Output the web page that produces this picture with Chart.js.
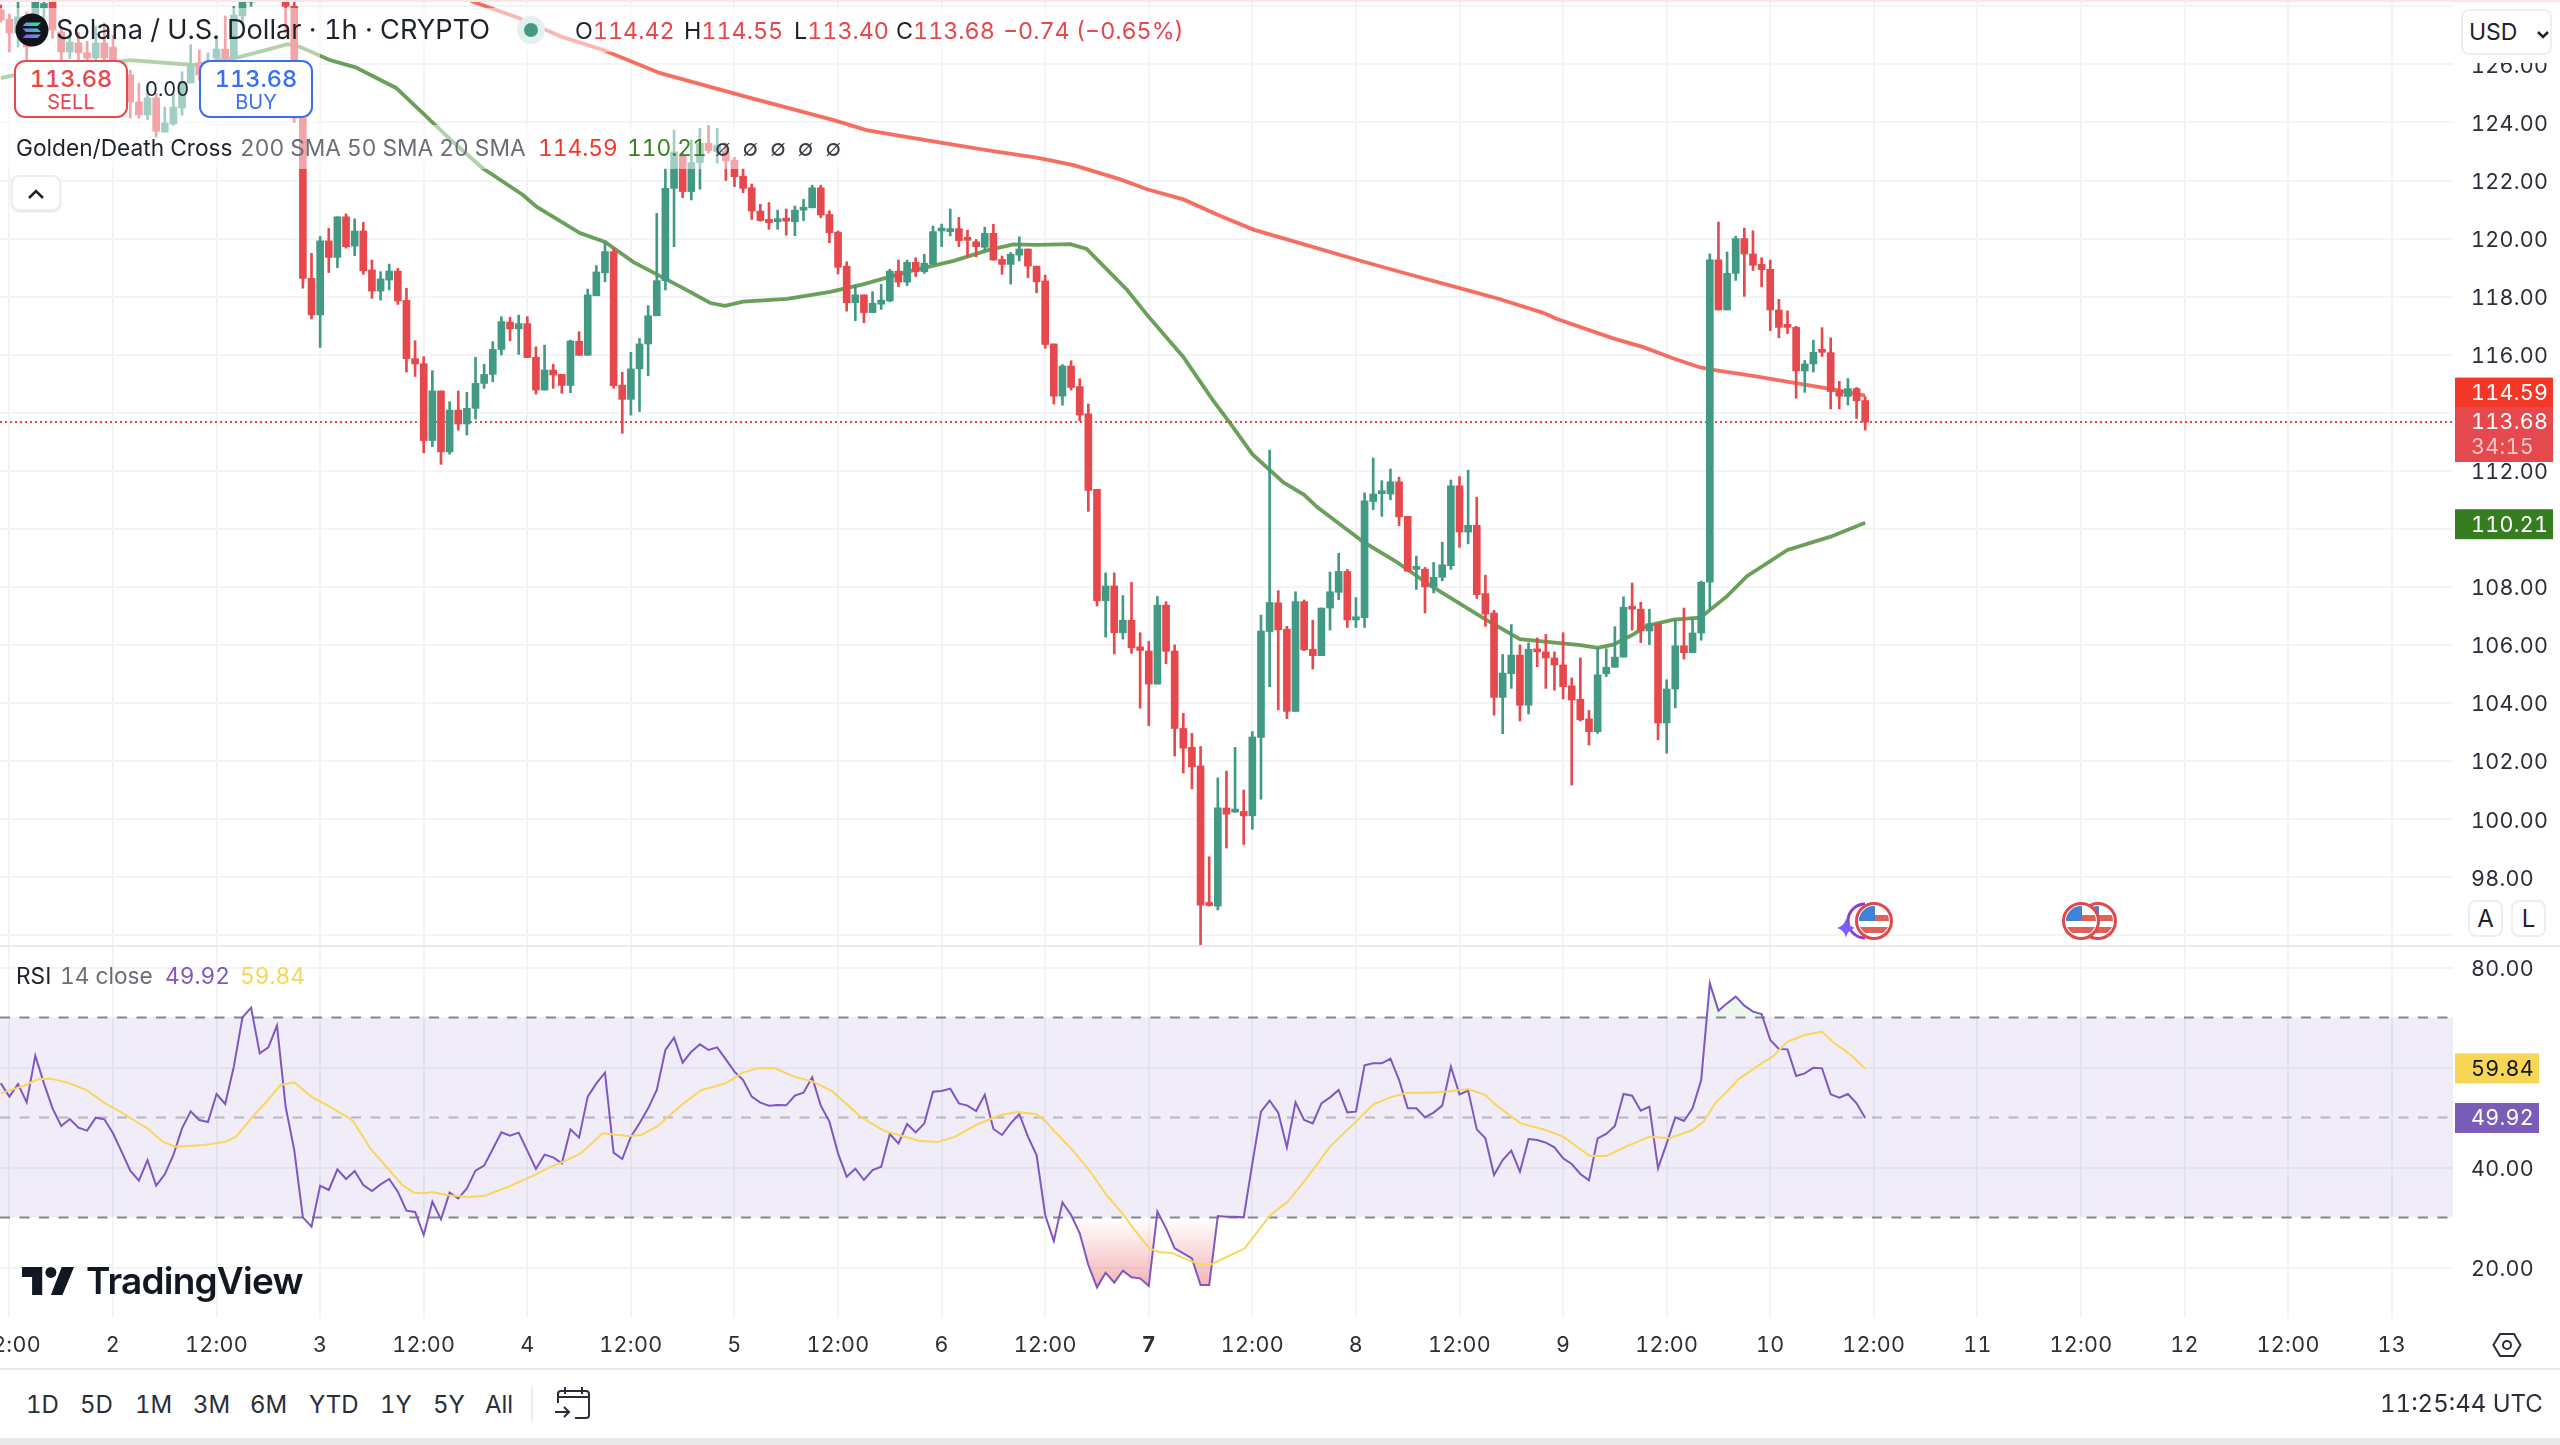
<!DOCTYPE html>
<html>
<head>
<meta charset="utf-8">
<title>SOL/USD 1h</title>
<script src="https://cdn.jsdelivr.net/npm/chart.js@4/dist/chart.umd.min.js"></script>
<style>
    html, body { margin: 0; padding: 0; background: #fff; }
    body { position: relative; width: 2560px; height: 1445px; overflow: hidden; font-family: Inter, sans-serif; color: #1e222d; font-variant-numeric: tabular-nums; }
    canvas { position: absolute; left: 0; }
    .abs { position: absolute; white-space: nowrap; line-height: 1; }
    .veil { position: absolute; background: rgba(255, 255, 255, 0.5); }
    .gray { color: #6a6d78; }
    .red { color: #e5484d; }
    .green { color: #388022; }
    .trade { position: absolute; top: 60px; width: 110px; height: 54px; border: 2px solid; border-radius: 11px; background: #fff; text-align: center; }
    .trade b { display: block; font-weight: 500; font-size: 23.500px; line-height: 24px; margin-top: 5px; }
    .trade span { display: block; font-size: 20px; line-height: 23px; }
    .btn { position: absolute; background: #fff; border: 2px solid #eeeeef; border-radius: 8px; box-sizing: border-box; text-align: center; }
    .range { position: absolute; top: 1393px; font-size: 24px; line-height: 1; color: #2a2e39; }
    .ohlc { position: absolute; top: 19px; white-space: nowrap; line-height: 1; font-size: 23.300px; }
    .leg { position: absolute; top: 137px; white-space: nowrap; line-height: 1; font-size: 22.700px; }
</style>
</head>
<body>
<canvas id="priceChart" width="2560" height="945" style="top:0"></canvas>
<canvas id="rsiChart" width="2560" height="423" style="top:945px"></canvas>

<div class="abs" style="left:0;top:0;width:2560px;height:2px;background:#fbe6e6"></div>
<div class="abs" style="left:0;top:945px;width:2560px;height:2px;background:#e9e9ea"></div>
<div class="abs" style="left:0;top:1368px;width:2560px;height:2px;background:#e9e9ea"></div>
<div class="abs" style="left:0;top:1438px;width:2560px;height:7px;background:#e9e9e9"></div>

<div class="veil" style="left:0;top:8px;width:1185px;height:44px"></div>
<div class="veil" style="left:0;top:52px;width:320px;height:73px"></div>
<div class="veil" style="left:0;top:125px;width:845px;height:44px"></div>

<svg class="abs" style="left:15px;top:13px" width="34" height="34" viewBox="0 0 34 34">
    <defs><linearGradient id="sol" x1="0" y1="1" x2="1" y2="0"><stop offset="0" stop-color="#9945ff"/><stop offset="0.5" stop-color="#5a9ee0"/><stop offset="1" stop-color="#19fb9b"/></linearGradient></defs>
    <circle cx="17" cy="17" r="16.5" fill="#14151c"/>
    <path d="M11 9.5h15l-3.5 3.5h-15zM7.500 15.500h15l3.500 3.500h-15zM11 21.500h15l-3.500 3.500h-15z" fill="url(#sol)"/>
</svg>
<div class="abs" style="left:56px;top:16px;font-size:27.200px">Solana / U.S. Dollar · 1h · CRYPTO</div>
<svg class="abs" style="left:516px;top:15px" width="30" height="30"><circle cx="15" cy="15" r="14" fill="#e3f1ee"/><circle cx="15" cy="15" r="7" fill="#429a84"/></svg>
<div class="ohlc" style="left:575px">O<span class="red">114.42</span></div>
<div class="ohlc" style="left:684px">H<span class="red">114.55</span></div>
<div class="ohlc" style="left:794px">L<span class="red">113.40</span></div>
<div class="ohlc" style="left:896px">C<span class="red">113.68</span></div>
<div class="ohlc red" style="left:1003px">−0.74 (−0.65%)</div>

<div class="trade red" style="left:14px;border-color:#e5484d"><b>113.68</b><span>SELL</span></div>
<div class="abs" style="left:145px;top:79px;font-size:20px">0.00</div>
<div class="trade" style="left:199px;border-color:#3b6ff2;color:#3b6ff2"><b>113.68</b><span>BUY</span></div>

<div class="leg" style="left:16px">Golden/Death Cross</div>
<div class="leg gray" style="left:240px">200 SMA 50 SMA 20 SMA</div>
<div class="leg" style="left:538px;color:#f23726">114.59</div>
<div class="leg green" style="left:627px">110.21</div>
<div class="leg" style="left:715px;word-spacing:6px;color:#3a3d47">∅ ∅ ∅ ∅ ∅</div>
<div class="btn" style="left:11px;top:175px;width:50px;height:36px;box-shadow:0 1px 2px rgba(0,0,0,.12)">
    <svg width="22" height="14" viewBox="0 0 22 14" style="margin-top:10px"><path d="M4 11l7-7 7 7" fill="none" stroke="#1e222d" stroke-width="2.500"/></svg>
</div>

<div class="abs" style="left:2455px;top:2px;width:105px;height:61px;background:#fff"></div>
<div class="btn" style="left:2461px;top:9px;width:91px;height:46px;font-size:23px;line-height:42px;text-align:left;padding-left:6px">USD
    <svg width="14" height="10" viewBox="0 0 14 10" style="margin-left:12px"><path d="M2 2l5 5 5-5" fill="none" stroke="#1e222d" stroke-width="2.500"/></svg>
</div>
<div class="btn" style="left:2468px;top:900px;width:35px;height:37px;font-size:24px;line-height:34px">A</div>
<div class="btn" style="left:2511px;top:900px;width:35px;height:37px;font-size:24px;line-height:34px">L</div>

<svg class="abs" style="left:1830px;top:895px" width="300" height="50" viewBox="0 0 300 50">
    <defs>
        <clipPath id="flagClip"><circle r="15"/></clipPath>
        <g id="usFlag">
            <circle r="17.500" fill="#fff" stroke="#e0494b" stroke-width="3"/>
            <g clip-path="url(#flagClip)">
                <rect x="-15" y="-15" width="30" height="30" fill="#fff"/>
                <rect x="-15" y="-6" width="30" height="6" fill="#e0605c"/>
                <rect x="-15" y="6" width="30" height="6" fill="#e0605c"/>
                <rect x="-15" y="-15" width="16" height="15" fill="#3f83d8"/>
            </g>
        </g>
    </defs>
    <path d="M35 9a17 17 0 0 0 0 34" fill="none" stroke="#8a3fd0" stroke-width="3"/>
    <use href="#usFlag" x="44" y="26"/>
    <path d="M16 23c1 5 3 8 9 10-6 2-8 5-9 10-1-5-3-8-9-10 6-2 8-5 9-10z" fill="#7a5cff"/>
    <use href="#usFlag" x="268" y="26"/>
    <use href="#usFlag" x="251" y="26"/>
</svg>

<div class="abs" style="left:16px;top:965px;font-size:22.700px">RSI</div>
<div class="abs gray" style="left:60px;top:965px;font-size:22.700px">14 close</div>
<div class="abs" style="left:165px;top:965px;font-size:22.700px;color:#7e57c2">49.92</div>
<div class="abs" style="left:240px;top:965px;font-size:22.700px;color:#f7d655">59.84</div>

<svg class="abs" style="left:22px;top:1267px" width="52" height="28" viewBox="0 0 36 19.400" preserveAspectRatio="none">
    <path d="M14 19.400H7V7H0V0h14zM28 19.400h-8L27.500 0h8.500z" fill="#131722"/><circle cx="20" cy="3.800" r="3.800" fill="#131722"/>
</svg>
<div class="abs" style="left:86px;top:1262px;font-size:37px;font-weight:600;letter-spacing:-0.8px;color:#131722;font-variant-numeric:normal">TradingView</div>

<svg class="abs" style="left:2492px;top:1332px" width="30" height="26" viewBox="0 0 30 26"><path d="M8 2h14l6.500 11L22 24H8L1.500 13z" fill="none" stroke="#2a2e39" stroke-width="2"/><circle cx="15" cy="13" r="4" fill="none" stroke="#2a2e39" stroke-width="2"/></svg>

<div class="range" style="left:26px">1D</div>
<div class="range" style="left:80px">5D</div>
<div class="range" style="left:135px">1M</div>
<div class="range" style="left:193px">3M</div>
<div class="range" style="left:250px">6M</div>
<div class="range" style="left:309px">YTD</div>
<div class="range" style="left:380px">1Y</div>
<div class="range" style="left:433px">5Y</div>
<div class="range" style="left:485px">All</div>
<div class="abs" style="left:531px;top:1385px;width:2px;height:38px;background:#eeeeef"></div>
<svg class="abs" style="left:555px;top:1385px" width="36" height="36" viewBox="0 0 36 36"><path d="M3 18V9a3 3 0 0 1 3-3h25a3 3 0 0 1 3 3v21a3 3 0 0 1-3 3H20M3 12h31M10 2v7M27 2v7M0 27h14M9 22l5 5-5 5" fill="none" stroke="#2a2e39" stroke-width="2"/></svg>
<div class="abs" style="left:2380px;top:1392px;font-size:24px;color:#2a2e39">11:25:44 UTC</div>

<script>
const palette = {
    up: '#429a84',
    down: '#e5484d',
    sma200: 'rgba(242, 54, 38, 0.72)',
    sma50: 'rgba(56, 128, 34, 0.75)',
    sma200Badge: '#f23726',
    sma50Badge: '#367d22',
    rsi: '#7e57c2',
    rsiMa: '#f9d65c',
    grid: '#f3f4f5',
    text: '#2a2e39',
};

// hours are counted from the start of day 2, first candle is 13:00 before that
const firstHour = -13;

const opens = [
    127.88, 127.56, 127.08, 127.53, 127.67, 127.95, 128.15, 127.12, 126.43, 126.74, 126.40, 126.22, 126.74,
    126.60, 125.75, 125.64, 124.71, 124.26, 124.85, 123.67, 123.95, 124.50, 125.36, 126.05, 125.64, 126.22, 126.53, 126.22, 127.67,
    128.15, 128.60, 129.00, 128.80, 128.30, 128.00, 124.15, 118.63, 117.37, 119.92, 119.35, 120.75, 119.74, 120.26, 118.92, 118.19, 118.57, 118.88,
    117.87, 115.86, 115.69, 113.04, 114.75, 112.65, 114.09, 113.61, 114.15, 115.01, 115.32, 116.18, 117.12, 116.89, 117.07, 115.91, 114.78, 115.47, 115.32, 114.94, 116.46,
    115.98, 118.03, 118.82, 119.55, 114.95, 114.46, 115.51, 116.37, 117.34, 118.55, 121.73, 122.84, 121.62, 122.62, 123.28, 123.00, 123.00, 122.70, 122.15,
    121.75, 120.95, 120.66, 120.58, 120.64, 120.58, 120.98, 121.06, 121.75, 120.83, 120.22, 119.05, 117.79, 118.06, 117.45, 117.74, 117.85, 118.88, 118.50, 119.18, 118.86, 119.12,
    120.26, 120.24, 120.34, 119.98, 119.89, 119.70, 120.18, 119.28, 119.11, 119.43, 119.64, 119.05, 118.54, 116.37, 114.57, 115.61, 114.90,
    113.96, 111.36, 107.52, 108.03, 106.42, 106.85, 105.93, 105.79, 104.65, 107.37, 105.79, 103.12, 102.47, 101.83, 97.06, 97.00, 100.38, 100.24, 100.26, 100.11, 102.81, 106.46,
    107.45, 106.54, 103.71, 107.49, 105.85, 105.63, 107.27, 107.81, 108.53, 106.86, 106.94, 110.94, 111.21, 111.20, 111.62, 110.43, 108.60, 108.61, 108.00, 108.33, 108.73,
    111.48, 109.89, 110.12, 107.77, 107.10, 104.19, 105.01, 105.65, 103.92, 105.85, 105.76, 105.55, 105.31, 104.59, 104.13, 103.45, 103.01,
    105.01, 105.23, 105.58, 107.30, 107.23, 106.48, 106.73, 103.31, 104.48, 105.97, 105.73, 106.41, 108.16, 119.27, 117.54, 118.80, 120.00, 119.47, 119.11, 118.94, 117.54, 117.00, 116.94, 115.44, 115.68, 116.14, 116.07, 114.76, 114.56, 114.83, 114.42,
];
const highs = [
    128.05, 127.74, 128.22, 127.80, 128.30, 128.30, 128.30, 127.30, 127.20, 127.10, 126.80, 127.30, 127.43,
    127.00, 126.00, 125.80, 125.35, 125.30, 125.00, 124.53, 125.00, 125.75, 126.68, 126.50, 126.40, 127.00, 127.67, 128.00, 128.22,
    128.90, 129.20, 129.20, 129.00, 128.60, 128.20, 124.40, 119.49, 120.07, 120.35, 120.75, 120.85, 120.68, 120.56, 119.26, 118.86, 119.12, 118.97,
    118.29, 116.48, 115.93, 115.45, 114.75, 114.38, 114.75, 114.70, 115.91, 115.67, 116.45, 117.31, 117.29, 117.36, 117.31, 116.27, 116.33, 115.67, 115.32, 116.50, 116.79,
    118.26, 119.07, 119.89, 119.66, 115.39, 116.08, 116.56, 117.69, 120.87, 122.40, 123.74, 122.95, 123.40, 123.80, 123.90, 123.80, 123.30, 122.80, 122.40,
    121.88, 121.18, 121.24, 120.98, 121.02, 121.12, 121.35, 121.84, 121.84, 120.96, 120.26, 119.20, 118.40, 118.06, 118.17, 118.42, 118.94, 119.26, 119.26, 119.34, 119.46, 120.43,
    120.50, 121.02, 120.73, 120.29, 119.97, 120.39, 120.49, 119.40, 119.52, 120.06, 119.64, 119.05, 118.74, 116.37, 115.66, 115.79, 115.17,
    114.30, 111.36, 108.48, 108.48, 107.70, 108.15, 106.42, 106.12, 107.67, 107.49, 106.00, 103.64, 102.95, 102.50, 98.70, 101.42, 101.65, 102.47, 101.00, 103.01, 107.03, 112.71,
    107.87, 106.64, 107.83, 107.55, 106.85, 107.27, 108.51, 109.16, 108.60, 107.63, 111.24, 112.44, 111.66, 112.06, 111.78, 110.43, 109.06, 108.67, 108.84, 109.54, 111.68,
    111.80, 112.02, 111.09, 108.40, 107.19, 105.67, 106.70, 106.00, 106.07, 106.24, 106.36, 105.76, 106.42, 104.86, 105.55, 103.74, 105.88,
    105.87, 106.63, 107.66, 108.13, 107.47, 107.23, 106.73, 104.80, 106.87, 107.27, 106.94, 108.20, 119.47, 120.57, 119.54, 120.08, 120.36, 120.27, 119.34, 119.26, 117.91, 117.51, 116.98, 115.80, 116.50, 116.93, 116.58, 115.08, 115.18, 114.87, 114.55,
];
const lows = [
    127.46, 126.43, 126.60, 126.00, 127.30, 127.50, 126.90, 125.90, 126.20, 125.90, 125.90, 125.90, 125.90,
    125.50, 124.70, 124.15, 124.15, 124.10, 123.50, 123.67, 123.90, 124.25, 125.36, 125.45, 125.50, 126.15, 126.10, 126.10, 127.40,
    128.00, 128.50, 128.50, 128.20, 127.10, 124.00, 118.29, 117.23, 116.25, 118.83, 119.00, 119.67, 119.41, 118.77, 117.94, 117.88, 118.23, 117.73,
    115.40, 115.25, 112.62, 112.83, 112.22, 112.57, 113.40, 113.23, 113.78, 114.84, 115.07, 115.99, 116.48, 116.01, 115.90, 114.64, 114.78, 114.84, 114.67, 114.69, 115.98,
    115.98, 118.03, 118.51, 114.84, 113.29, 113.92, 114.04, 115.27, 117.34, 118.23, 119.72, 121.41, 121.33, 121.70, 122.95, 122.60, 122.00, 121.79, 121.58,
    120.66, 120.60, 120.32, 120.32, 120.12, 120.10, 120.62, 121.06, 120.72, 119.86, 118.78, 117.50, 117.17, 117.10, 117.45, 117.56, 117.82, 118.34, 118.38, 118.69, 118.80, 119.09,
    119.72, 120.09, 119.72, 119.37, 119.37, 119.60, 119.26, 118.77, 118.43, 119.23, 118.65, 118.13, 116.22, 114.30, 114.26, 114.78, 113.72,
    110.60, 107.34, 106.27, 105.69, 106.20, 105.71, 103.82, 103.22, 104.65, 105.35, 102.17, 101.59, 101.04, 95.66, 97.00, 96.87, 99.00, 100.23, 99.12, 99.65, 100.68, 104.56,
    103.76, 103.46, 103.71, 105.80, 105.17, 105.63, 106.51, 107.56, 106.60, 106.60, 106.60, 110.66, 110.43, 111.00, 110.11, 108.54, 107.91, 107.10, 107.79, 108.21, 108.60,
    109.36, 109.48, 107.60, 106.64, 103.58, 102.94, 104.50, 103.38, 103.62, 105.25, 104.50, 104.44, 104.14, 101.17, 103.38, 102.55, 102.95,
    104.91, 105.23, 105.58, 106.51, 106.08, 106.01, 102.73, 102.27, 103.83, 105.51, 105.73, 106.16, 107.23, 117.54, 117.54, 118.56, 118.01, 118.90, 118.34, 116.83, 116.58, 116.73, 114.50, 114.70, 115.40, 115.94, 114.13, 114.13, 114.26, 113.80, 113.40,
];
const closes = [
    127.53, 127.08, 127.64, 126.60, 128.15, 128.10, 127.19, 126.43, 126.77, 126.40, 126.22, 126.74, 126.22,
    125.75, 124.95, 124.71, 124.26, 124.85, 123.70, 123.98, 124.53, 125.40, 125.98, 125.64, 126.10, 126.53, 126.22, 127.70, 128.15,
    128.60, 129.00, 128.80, 128.30, 128.00, 124.15, 118.63, 117.37, 119.92, 119.35, 120.75, 119.72, 120.26, 118.89, 118.19, 118.61, 118.88, 117.85,
    115.86, 115.68, 113.04, 114.75, 112.65, 114.09, 113.61, 114.15, 115.01, 115.32, 116.18, 117.14, 116.89, 117.07, 115.90, 114.78, 115.47, 115.30, 114.94, 116.47, 115.98,
    118.06, 118.85, 119.55, 114.93, 114.46, 115.51, 116.37, 117.34, 118.55, 121.73, 122.99, 121.62, 122.62, 123.28, 123.03, 123.22, 122.68, 122.13, 121.73,
    120.95, 120.62, 120.55, 120.62, 120.60, 120.98, 121.07, 121.75, 120.81, 120.20, 119.01, 117.79, 118.06, 117.45, 117.77, 117.88, 118.88, 118.50, 119.18, 118.86, 119.15, 120.24,
    120.29, 120.34, 119.93, 119.94, 119.72, 120.18, 119.26, 119.11, 119.46, 119.64, 119.05, 118.51, 116.35, 114.57, 115.61, 114.87, 113.92,
    111.32, 107.52, 108.03, 106.42, 106.85, 105.90, 105.81, 104.65, 107.37, 105.78, 103.12, 102.44, 101.80, 97.03, 97.02, 100.39, 100.17, 100.28, 100.11, 102.83, 106.48, 107.46,
    106.52, 103.71, 107.49, 105.83, 105.63, 107.27, 107.83, 108.53, 106.86, 106.97, 110.96, 111.20, 111.25, 111.62, 110.41, 108.54, 108.62, 108.00, 108.33, 108.76, 111.48,
    109.89, 110.12, 107.73, 107.06, 104.19, 105.03, 105.65, 103.92, 105.85, 105.76, 105.55, 105.31, 104.56, 104.10, 103.42, 103.01, 104.97,
    105.23, 105.58, 107.30, 107.23, 106.48, 106.73, 103.31, 104.48, 105.97, 105.73, 106.41, 108.16, 119.27, 117.54, 118.80, 120.00, 119.47, 119.08, 118.93, 117.54, 116.94, 116.94, 115.44, 115.68, 116.08, 116.08, 114.73, 114.57, 114.83, 114.41, 113.68,
];

const sma200Hours = [40, 41.8, 47, 52, 56.8, 63.4, 73.4, 83.4, 87.3, 91.2, 95.2, 101.2, 107, 111.3, 116.7, 119.8, 124, 128.3, 132.2, 136, 144, 150, 157.2, 160.7, 165.7, 167.3, 173.8, 177.3, 180.8, 183.9, 185.4, 190, 194.6, 199.3, 203];
const sma200Values = [128.4, 128.15, 127.6, 126.95, 126.5, 125.7, 124.88, 124.09, 123.74, 123.54, 123.34, 123.05, 122.79, 122.53, 122.04, 121.7, 121.35, 120.78, 120.3, 119.97, 119.28, 118.78, 118.2, 117.91, 117.44, 117.23, 116.56, 116.26, 115.87, 115.56, 115.48, 115.27, 115.04, 114.8, 114.59];

const sma50Hours = [-13, -11.3, 2, 9.3, 14.7, 17.8, 20.2, 21.7, 25.1, 28.1, 32.8, 36.1, 39.5, 42.8, 47.5, 49.1, 54.1, 57, 60.3, 66, 69.2, 70.9, 73, 78.1, 83.1, 87, 92, 97.4, 101.4, 104.3, 107, 110.9, 112.8, 117.5, 119.8, 124, 127.4, 129.4, 132, 135.6, 138, 139.5, 144.9, 148.6, 152.7, 159, 163, 170, 172, 173.8, 176.2, 177.7, 180.8, 183.9, 187, 189.3, 194, 199, 203];
const sma50Values = [125.53, 125.64, 126.15, 125.98, 126.26, 126.5, 126.7, 126.6, 126.15, 125.9, 125.19, 124.26, 123.3, 122.43, 121.5, 121.09, 120.19, 119.88, 119.19, 118.3, 117.78, 117.68, 117.83, 117.92, 118.16, 118.43, 118.85, 119.23, 119.6, 119.8, 119.78, 119.81, 119.64, 118.23, 117.37, 115.92, 114.44, 113.65, 112.57, 111.6, 111.17, 110.75, 109.54, 108.88, 108.03, 106.88, 106.2, 105.99, 105.9, 106.01, 106.37, 106.66, 106.87, 106.94, 107.68, 108.37, 109.27, 109.73, 110.21];

const rsiValues = [
    56.85, 54.19, 56.72, 53.05, 62.39, 56.85, 51.85, 48.32, 49.72, 47.99, 47.39, 49.99, 49.65,
    46.85, 43.19, 39.39, 37.39, 41.52, 36.39, 38.65, 42.52, 47.85, 51.25, 49.52, 49.12, 54.72, 52.72, 60.19, 70.05, 71.99, 62.85, 64.05, 68.39, 52.19, 43.52,
    30.05, 28.19, 36.39, 35.52, 39.65, 37.72, 39.32, 36.52, 35.32, 36.65, 37.72, 35.19, 31.39, 31.12, 26.52, 33.19, 29.65, 34.99, 33.85, 35.85, 39.39, 40.39,
    43.72, 47.05, 46.39, 46.99, 43.39, 39.72, 42.59, 42.05, 40.85, 47.65, 45.99, 54.19, 56.85, 58.99, 42.99, 41.72, 46.19, 48.85, 51.85, 55.52, 63.52, 65.99,
    60.99, 63.19, 64.65, 63.52, 64.05, 61.65, 59.19, 57.52, 54.19, 52.99, 52.39, 52.52, 52.45, 54.39, 54.99, 58.05, 52.39, 49.19, 42.85, 38.19, 39.79, 37.52,
    39.52, 40.19, 46.72, 44.85, 48.72, 47.05, 48.85, 55.19, 55.32, 55.79, 52.85, 52.39, 51.32, 54.59, 47.72, 46.52, 48.85, 50.72, 46.19, 42.52, 30.52, 25.32,
    33.05, 30.52, 26.85, 20.52, 16.05, 18.99, 16.99, 19.39, 18.05, 17.85, 16.32, 31.19, 27.85, 23.85, 22.85, 21.85, 16.52, 16.52, 30.32, 30.19, 30.19, 30.05,
    40.85, 51.19, 53.39, 50.99, 44.05, 53.05, 49.52, 48.85, 52.85, 54.05, 55.52, 51.05, 51.19, 60.45, 60.85, 60.85, 61.79, 57.52, 51.85, 51.85, 50.05, 50.99,
    52.39, 60.19, 54.65, 55.39, 47.65, 45.85, 38.52, 41.52, 43.39, 39.19, 45.72, 45.52, 44.99, 44.05, 41.85, 40.72, 38.72, 37.45, 45.85, 46.72, 48.32, 54.72,
    54.39, 51.39, 52.19, 39.85, 44.85, 50.05, 49.32, 51.85, 57.52, 76.85, 71.39, 72.85, 74.19, 72.39, 71.19, 70.72, 65.52, 63.72, 63.65, 58.32, 58.85, 59.99,
    59.85, 54.65, 53.99, 54.72, 52.85, 49.92,
];

const rsiMaHours = [-13, -10.1, -8.7, -7.2, -5, -3.1, -0.9, 1.3, 3.2, 4, 5.75, 7.2, 10.55, 13.1, 14.25, 16.5, 17.95, 19.4, 21, 23.1, 25.35, 27.8, 29.8, 32, 33.5, 34.9, 36.05, 37, 38.6, 41.2, 43.1, 46, 49, 50.5, 51.9, 54.2, 56.75, 59.7, 61.2, 63, 66, 68.2, 71, 73, 74.9, 76.7, 78.9, 81.1, 83.4, 86.7, 89.3, 93.3, 95.5, 97.4, 100, 102.8, 104.8, 106.9, 108.1, 109.1, 111.1, 113.1, 115.1, 117.1, 118.2, 120.1, 121.1, 122.8, 124.1, 125.8, 127.1, 129.1, 131.1, 134.1, 136.1, 138, 141, 144, 146, 148, 150, 152.4, 154.4, 157, 159, 160.3, 163.1, 166, 168, 171.1, 173, 175.3, 178, 180.3, 183, 184.3, 185.6, 187, 188.3, 191.3, 192.3, 194, 196, 198, 199.3, 201.1, 203];
const rsiMaValues = [54.85, 56.52, 57.65, 57.79, 56.85, 55.52, 52.85, 50.72, 48.65, 47.85, 45.19, 44.19, 44.52, 45.19, 46.19, 50.85, 53.52, 56.52, 57.05, 54.05, 51.99, 49.39, 43.85, 39.52, 36.52, 34.99, 34.85, 35.12, 34.52, 34.12, 34.39, 36.32, 38.65, 39.99, 40.99, 42.85, 46.85, 46.32, 46.52, 48.19, 52.72, 55.52, 56.85, 59.05, 59.92, 59.85, 58.19, 57.19, 55.19, 50.05, 47.39, 45.39, 45.12, 46.05, 48.52, 50.52, 51.12, 50.72, 49.19, 47.19, 43.65, 39.52, 34.52, 30.52, 27.85, 23.85, 23.19, 22.85, 21.85, 20.72, 20.52, 22.19, 23.85, 30.52, 33.19, 37.19, 44.19, 49.19, 52.65, 54.05, 54.99, 54.99, 55.19, 55.72, 54.52, 52.39, 48.85, 47.52, 46.19, 42.32, 42.32, 44.19, 46.19, 45.85, 47.52, 49.19, 52.85, 55.19, 57.65, 61.19, 62.19, 65.19, 66.52, 67.19, 65.05, 62.85, 59.84];

const lastPrice = closes[closes.length - 1];
const lastSma200 = sma200Values[sma200Values.length - 1];
const lastSma50 = sma50Values[sma50Values.length - 1];
const lastRsi = rsiValues[rsiValues.length - 1];
const lastRsiMa = rsiMaValues[rsiMaValues.length - 1];
const rsiBands = [70, 50, 30];

const hourMin = -13.09;
const hourMax = 271.1;
const axisWidth = 107;
const tickFont = { family: 'Inter', size: 21.5 };

function zip(xs, ys) {
    return xs.map((x, i) => ({ x, y: ys[i] }));
}

function hourOf(i) {
    return firstHour + i;
}

function flatLine(value) {
    return [{ x: hourMin, y: value }, { x: hourMax, y: value }];
}

// the scales would reserve room for half a label otherwise
function dropPadding(scale) {
    scale.paddingTop = 0;
    scale.paddingBottom = 0;
    scale.paddingLeft = 0;
    scale.paddingRight = 0;
}

// value tags on the right axis, placed through the y scale
function valueBadges(items, width) {
    return {
        id: 'valueBadges',
        beforeDraw(chart) {
            chart.ctx.letterSpacing = '0.3px';
        },
        afterDraw(chart) {
            const { ctx, scales: { y } } = chart;
            ctx.save();
            items.forEach((item) => {
                const center = y.getPixelForValue(item.value) + (item.shift || 0);
                const top = center - 15;
                const height = item.sub ? 55 : 30;
                ctx.fillStyle = item.color;
                ctx.fillRect(2455, top, width, height);
                ctx.font = '21.5px Inter';
                ctx.textBaseline = 'middle';
                ctx.fillStyle = item.textColor || '#fff';
                ctx.fillText(item.value.toFixed(2), 2471, center + 1);
                if (item.sub) {
                    ctx.fillStyle = 'rgba(255, 255, 255, 0.7)';
                    ctx.fillText(item.sub, 2471, center + 26);
                }
            });
            ctx.restore();
        },
    };
}

function xAxis(showLabels) {
    return {
        type: 'linear',
        min: hourMin,
        max: hourMax,
        offset: false,
        border: { display: false },
        grid: { color: palette.grid, lineWidth: 2, offset: false, drawTicks: false },
        afterFit: (scale) => {
            scale.height = showLabels ? 50 : 0;
            dropPadding(scale);
        },
        ticks: {
            display: showLabels,
            stepSize: 12,
            includeBounds: false,
            autoSkip: false,
            maxRotation: 0,
            padding: 15,
            color: palette.text,
            font: (ctx) => ({ ...tickFont, weight: ctx.tick && ctx.tick.value === 120 ? 'bold' : 'normal' }),
            callback: (value) => (value % 24 === 0 ? String(2 + value / 24) : '12:00'),
        },
    };
}

function yAxis(min, max, stepSize, hideBelow) {
    return {
        position: 'right',
        min,
        max,
        beginAtZero: false,
        border: { display: false },
        grid: { color: palette.grid, lineWidth: 2, drawTicks: false },
        afterFit: (scale) => {
            scale.width = axisWidth;
            dropPadding(scale);
        },
        ticks: {
            stepSize,
            includeBounds: false,
            padding: 18,
            labelOffset: 2,
            color: palette.text,
            font: tickFont,
            callback: (value) => (value < hideBelow ? '' : value.toFixed(2)),
        },
    };
}

const baseOptions = {
    responsive: false,
    animation: false,
    devicePixelRatio: 1,
    events: [],
    layout: { padding: 0, autoPadding: false },
};

const candleColors = closes.map((c, i) => (c >= opens[i] ? palette.up : palette.down));

new Chart(document.getElementById('priceChart'), {
    type: 'bar',
    plugins: [valueBadges([
        { value: lastSma200, color: palette.sma200Badge, shift: -3 },
        { value: lastPrice, color: palette.down, sub: '34:15' },
        { value: lastSma50, color: palette.sma50Badge, shift: 1.5 },
    ], 98)],
    data: {
        datasets: [
            {
                type: 'bar',
                label: 'Body',
                data: opens.map((o, i) => ({ x: hourOf(i), y: [o, closes[i]] })),
                backgroundColor: candleColors,
                barThickness: 7,
                minBarLength: 3,
                grouped: false,
                borderSkipped: false,
                order: 1,
            },
            {
                type: 'bar',
                label: 'Wick',
                data: lows.map((l, i) => ({ x: hourOf(i), y: [l, highs[i]] })),
                backgroundColor: candleColors,
                barThickness: 2,
                grouped: false,
                borderSkipped: false,
                order: 2,
            },
            {
                type: 'line',
                label: '200 SMA',
                data: zip(sma200Hours, sma200Values),
                borderColor: palette.sma200,
                borderWidth: 3.8,
                pointRadius: 0,
                order: 3,
            },
            {
                type: 'line',
                label: '50 SMA',
                data: zip(sma50Hours, sma50Values),
                borderColor: palette.sma50,
                borderWidth: 3.8,
                pointRadius: 0,
                order: 3,
            },
            {
                type: 'line',
                label: 'Last',
                data: flatLine(lastPrice),
                borderColor: palette.down,
                borderWidth: 2,
                borderDash: [2, 3],
                pointRadius: 0,
                order: 4,
            },
        ],
    },
    options: {
        ...baseOptions,
        scales: {
            x: xAxis(false),
            y: yAxis(95.66, 128.22, 2, 98),
        },
        plugins: {
            legend: { display: false },
            tooltip: { enabled: false },
        },
    },
});

const rsiChart = new Chart(document.getElementById('rsiChart'), {
    type: 'line',
    plugins: [valueBadges([
        { value: lastRsiMa, color: '#f7d655', textColor: '#131722' },
        { value: lastRsi, color: '#7a5cb9' },
    ], 84)],
    data: {
        datasets: [
            {
                label: 'Upper',
                data: flatLine(rsiBands[0]),
                borderColor: '#85858f',
                borderWidth: 2,
                borderDash: [10, 9.5],
                pointRadius: 0,
                fill: '+1',
                backgroundColor: 'rgba(126, 87, 194, 0.115)',
                order: 6,
            },
            {
                label: 'Lower',
                data: flatLine(rsiBands[2]),
                borderColor: '#85858f',
                borderWidth: 2,
                borderDash: [10, 9.5],
                pointRadius: 0,
                order: 5,
            },
            {
                label: 'Middle',
                data: flatLine(rsiBands[1]),
                borderColor: '#b7b5bf',
                borderWidth: 2,
                borderDash: [10, 9.5],
                pointRadius: 0,
                order: 5,
            },
            {
                label: 'Overbought',
                data: rsiValues.map((v, i) => ({ x: hourOf(i), y: v })),
                borderColor: 'transparent',
                borderWidth: 0,
                pointRadius: 0,
                fill: { target: { value: rsiBands[0] }, above: 'rgba(76, 175, 80, 0.1)', below: 'transparent' },
                order: 4,
            },
            {
                label: 'RSI',
                data: rsiValues.map((v, i) => ({ x: hourOf(i), y: v })),
                borderColor: palette.rsi,
                borderWidth: 2,
                pointRadius: 0,
                fill: { target: { value: rsiBands[2] }, above: 'transparent', below: 'transparent' },
                order: 2,
            },
            {
                label: 'RSI MA',
                data: zip(rsiMaHours, rsiMaValues),
                borderColor: palette.rsiMa,
                borderWidth: 2,
                pointRadius: 0,
                order: 1,
            },
        ],
    },
    options: {
        ...baseOptions,
        scales: {
            x: xAxis(true),
            y: yAxis(9.92, 84.52, 20, 0),
        },
        plugins: {
            legend: { display: false },
            tooltip: { enabled: false },
        },
    },
});

// oversold fill fades out towards the 30 line, needs the scale so set it after layout
const rsiY = rsiChart.scales.y;
const oversold = rsiChart.ctx.createLinearGradient(0, rsiY.getPixelForValue(30), 0, rsiY.getPixelForValue(16));
oversold.addColorStop(0, 'rgba(229, 72, 77, 0)');
oversold.addColorStop(1, 'rgba(229, 72, 77, 0.42)');
rsiChart.data.datasets[4].fill.below = oversold;
rsiChart.update('none');
</script>
</body>
</html>
